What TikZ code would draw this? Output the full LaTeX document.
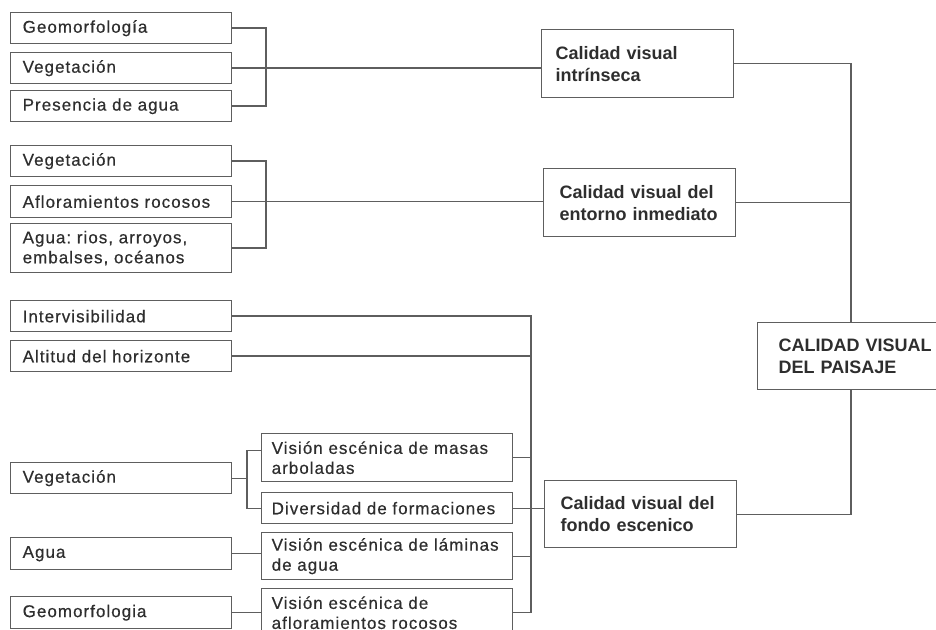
\documentclass[tikz,border=0pt]{standalone}
\usepackage{fontspec}
\newfontfamily\leaffont[LetterSpace=6, FakeBold=0.5]{Liberation Sans}
\newfontfamily\midfont{Liberation Sans}
\definecolor{linegray}{HTML}{5E5E5E}
\definecolor{textgray}{HTML}{2E2E2E}
\frenchspacing
\tikzset{
    leaf/.style={draw=linegray, line width=0.7pt, text=textgray, anchor=north west,
        font=\leaffont\fontsize{8.5pt}{10pt}\selectfont, align=left,
        text width=98.5pt, inner xsep=6pt, inner ysep=0pt, minimum height=15.5pt},
    sub/.style={leaf, text width=115.5pt, inner xsep=5pt},
    mid/.style={draw=linegray, line width=0.7pt, text=textgray, anchor=north west,
        font=\midfont\bfseries\fontsize{9pt}{11pt}\selectfont, align=left,
        text width=80pt, inner xsep=8pt, inner ysep=0pt, minimum height=34pt},
}
\begin{document}
\begin{tikzpicture}[x=0.5pt, y=-0.5pt, line width=0.7pt, draw=linegray]
    \useasboundingbox (0, 0) rectangle (936, 630);

    \node [leaf] (g1) at (10, 12)  {Geomorfología};
    \node [leaf] (v1) at (10, 52)  {Vegetación};
    \node [leaf] (p1) at (10, 90)  {Presencia de agua};
    \node [leaf] (v2) at (10, 145) {Vegetación};
    \node [leaf, minimum height=16pt] (a2) at (10, 185) {Afloramientos rocosos};
    \node [leaf, minimum height=24.5pt] (w2) at (10, 223) {Agua: rios, arroyos,\\embalses, océanos};
    \node [leaf] (i3) at (10, 300) {Intervisibilidad};
    \node [leaf] (h3) at (10, 340) {Altitud del horizonte};
    \node [leaf] (v3) at (10, 462) {Vegetación};
    \node [leaf, minimum height=16pt] (w3) at (10, 537) {Agua};
    \node [leaf, minimum height=16pt] (g3) at (10, 596) {Geomorfologia};

    \node [sub, minimum height=24pt] (m4) at (261, 433) {Visión escénica de masas\\arboladas};
    \node [sub] (d4) at (261, 492) {Diversidad de formaciones};
    \node [sub, minimum height=23.5pt] (l4) at (261, 532) {Visión escénica de láminas\\de agua};
    \node [sub, minimum height=24pt] (r4) at (261, 588) {Visión escénica de\\afloramientos rocosos};

    \node [mid, inner xsep=7pt, text width=82pt] (ci) at (541, 29) {Calidad visual\\intrínseca};
    \node [mid] (ce) at (543, 168) {Calidad visual del\\entorno inmediato};
    \node [mid, minimum height=33.5pt] (cf) at (544, 480) {Calidad visual del\\fondo escenico};
    \node [mid, inner xsep=10.5pt, minimum height=33.5pt] (cp) at (757, 322) {CALIDAD VISUAL\\DEL PAISAJE};

    \coordinate (b1) at (266, 0);
    \coordinate (b3) at (531, 0);
    \coordinate (b4) at (851, 0);
    \coordinate (b5) at (247, 0);

    \draw (g1.east) -| (b1 |- p1.east) -- (p1.east);
    \draw (v1.east) -- (v1.east -| ci.west);
    \draw (v2.east) -| (b1 |- w2.east) -- (w2.east);
    \draw (a2.east) -- (a2.east -| ce.west);

    \draw (ci.east) -| (b4 |- cp.north);
    \draw (ce.east) -- (ce.east -| b4);
    \draw (b4 |- cp.south) |- (cf.east);

    \draw (i3.east) -| (b3 |- r4.east) -- (r4.east);
    \foreach \leafname in {h3, m4, l4} {
        \draw (\leafname.east) -- (\leafname.east -| b3);
        }
    \draw (d4.east) -- (d4.east -| cf.west);

    \draw (v3.east) -- (v3.east -| b5);
    \draw ([yshift=3.5pt]m4.west) -| (b5 |- d4.west) -- (d4.west);
    \draw (w3.east) -- (w3.east -| l4.west);
    \draw (g3.east) -- (g3.east -| r4.west);
\end{tikzpicture}
\end{document}
